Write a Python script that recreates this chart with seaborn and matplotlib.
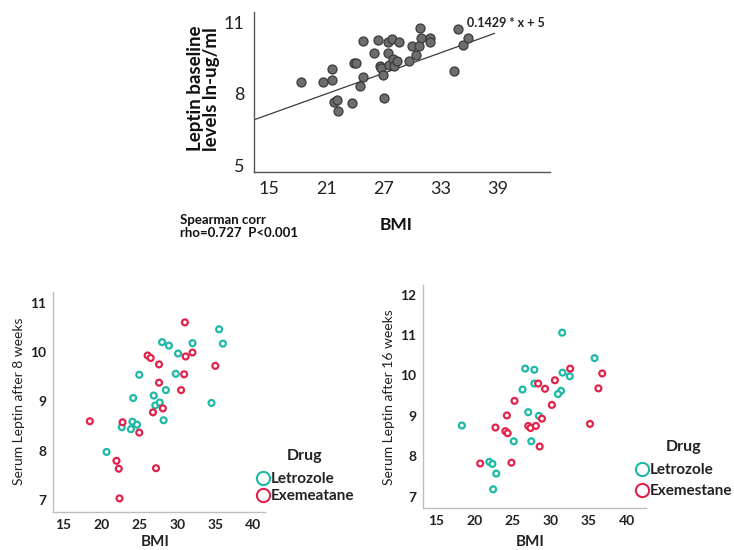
import matplotlib
matplotlib.use('Agg')
import matplotlib.pyplot as plt
import seaborn as sns
import pandas as pd
from matplotlib.lines import Line2D

sns.set_theme(style='white')
plt.rcParams['font.family'] = ['Lato', 'DejaVu Sans']

# ---------------- data ----------------
base_bmi = [18.3, 20.7, 21.6, 21.6, 21.8, 22.1, 22.2, 23.7, 23.95, 24.1, 24.9, 24.9, 24.6,
            26.0, 26.4, 26.6, 26.75, 26.96, 27.1, 27.45, 27.45, 27.6, 27.9, 28.0, 28.1,
            28.4, 28.7, 29.7, 30.0, 30.4, 30.9, 31.0, 30.8, 31.9, 31.9, 34.4, 34.9, 35.4, 35.9]
base_leptin = [8.48, 8.48, 9.02, 8.60, 7.66, 7.75, 7.29, 7.61, 9.30, 9.29, 10.23, 8.69, 8.35,
               9.72, 10.27, 9.18, 9.09, 8.78, 7.82, 10.16, 9.71, 9.19, 10.28, 9.44, 9.18,
               9.39, 10.16, 9.39, 10.0, 9.64, 10.77, 10.32, 10.0, 10.34, 10.17, 8.95, 10.70, 10.03, 10.35]
fit_slope = 0.1429
fit_intercept = 5
fit_x = [13.4, 38.7]
fit_label = '0.1429 * x + 5'
corr_text = 'Spearman corr\nrho=0.727  P<0.001'

w8_letro_bmi = [35.5, 28.0, 28.9, 32.0, 36.0, 30.1, 25.0, 29.8, 28.5, 24.2, 26.9, 27.1, 27.7,
                34.5, 28.2, 24.1, 24.7, 22.7, 23.9, 20.7]
w8_letro_lep = [10.46, 10.20, 10.13, 10.18, 10.17, 9.97, 9.54, 9.56, 9.23, 9.07, 9.12, 8.92, 8.98,
                8.97, 8.62, 8.59, 8.53, 8.48, 8.44, 7.98]
w8_exe_bmi = [31.0, 26.1, 26.5, 31.1, 32.0, 27.6, 35.0, 30.9, 27.6, 30.5, 28.1, 26.8, 18.5,
              22.8, 25.0, 22.0, 22.3, 27.2, 22.4]
w8_exe_lep = [10.60, 9.93, 9.88, 9.91, 9.99, 9.75, 9.72, 9.55, 9.38, 9.23, 8.86, 8.78, 8.60,
              8.58, 8.37, 7.80, 7.64, 7.65, 7.04]

w16_letro_bmi = [31.55, 35.8, 26.7, 27.9, 31.6, 32.55, 27.9, 26.35, 31.4, 31.0, 27.1, 28.5, 18.4,
                 25.2, 27.5, 22.0, 22.4, 22.9, 22.5]
w16_letro_lep = [11.06, 10.43, 10.17, 10.14, 10.07, 9.98, 9.80, 9.65, 9.62, 9.54, 9.09, 9.00, 8.76,
                 8.37, 8.37, 7.86, 7.81, 7.57, 7.18]
w16_exe_bmi = [32.6, 36.8, 30.6, 28.4, 29.3, 36.3, 25.3, 30.2, 24.3, 28.9, 22.8, 27.1, 27.4,
               28.1, 35.2, 24.1, 24.4, 28.6, 20.8, 24.9]
w16_exe_lep = [10.17, 10.05, 9.88, 9.80, 9.67, 9.68, 9.37, 9.27, 9.01, 8.93, 8.71, 8.75, 8.70,
               8.75, 8.80, 8.62, 8.57, 8.24, 7.82, 7.84]

drugs8 = ['Letrozole', 'Exemeatane']
drugs16 = ['Letrozole', 'Exemestane']
drug_colors = ['#1db8a6', '#e1224b']

top_xticks = [15, 21, 27, 33, 39]
top_yticks = [5, 8, 11]
bot_xticks = [15, 20, 25, 30, 35, 40]
w8_yticks = [7, 8, 9, 10, 11]
w16_yticks = [7, 8, 9, 10, 11, 12]

# ---------------- figure ----------------
fig = plt.figure(figsize=(7.34, 5.5), dpi=100)

# top panel
ax1 = fig.add_axes([0.346, 0.688, 0.403, 0.290])
sns.scatterplot(x=base_bmi, y=base_leptin, ax=ax1, color='#6d6d6d', edgecolor='#3a3a3a',
                s=42, linewidth=0.9, zorder=3)
ax1.plot(fit_x, [fit_slope * v + fit_intercept for v in fit_x], color='#3a3a3a', lw=0.9, zorder=2)
ax1.set_xlim(13.4, 44.5)
ax1.set_ylim(4.75, 11.42)
ax1.set_xticks(top_xticks)
ax1.set_yticks(top_yticks)
ax1.tick_params(length=0, labelsize=13, pad=7, colors='#222222')
for s in ['top', 'right']:
    ax1.spines[s].set_visible(False)
for s in ['left', 'bottom']:
    ax1.spines[s].set_color('#555555')
    ax1.spines[s].set_linewidth(1.0)
ax1.set_ylabel('Leptin baseline\nlevels ln-ug/ml', fontsize=13.5, fontweight='bold', color='#111111',
               linespacing=0.95)
ax1.yaxis.set_label_coords(-0.115, 0.52)
ax1.set_xlabel('BMI', fontsize=12.5, fontweight='bold', color='#111111')
ax1.xaxis.set_label_coords(0.48, -0.285)
fig.text(467 / 734, 1 - 22.7 / 550, fit_label, fontsize=9, fontweight='bold', va='center',
         ha='left', color='#222222')
fig.text(180 / 734, 1 - 214 / 550, corr_text, fontsize=9.5, fontweight='bold', va='top',
         ha='left', color='#111111', linespacing=1.05)


def drug_panel(rect, lb, ll, eb, el, names, ylim, xlim, yticks, ylabel, leg_xy, xlab_y, lspace):
    df = pd.DataFrame({
        'BMI': lb + eb,
        'Leptin': ll + el,
        'Drug': [names[0]] * len(lb) + [names[1]] * len(eb),
    })
    ax = fig.add_axes(rect)
    sns.scatterplot(data=df, x='BMI', y='Leptin', hue='Drug', hue_order=names,
                    palette=drug_colors, ax=ax, s=18, facecolor='none', linewidth=1.6,
                    legend=False, zorder=3)
    coll = ax.collections[0]
    coll.set_edgecolors(coll.get_facecolors())
    coll.set_facecolors('white')
    ax.set_xlim(*xlim)
    ax.set_ylim(*ylim)
    ax.set_xticks(bot_xticks)
    ax.set_yticks(yticks)
    ax.tick_params(length=0, labelsize=10, pad=5, colors='#222222')
    for lab in ax.get_xticklabels() + ax.get_yticklabels():
        lab.set_fontweight('bold')
    for s in ['top', 'right']:
        ax.spines[s].set_visible(False)
    for s in ['left', 'bottom']:
        ax.spines[s].set_color('#bdbdbd')
        ax.spines[s].set_linewidth(1.0)
    ax.set_ylabel(ylabel, fontsize=10, color='#222222')
    ax.set_xlabel('BMI', fontsize=11, fontweight='bold', color='#222222')
    ax.xaxis.set_label_coords(0.48, xlab_y)
    handles = [Line2D([], [], ls='none', marker='o', markersize=9.5, markerfacecolor='white',
                      markeredgecolor=c, markeredgewidth=1.5) for c in drug_colors]
    leg = ax.legend(handles, names, title='Drug', loc='upper left',
                    bbox_to_anchor=leg_xy, bbox_transform=fig.transFigure, frameon=False,
                    borderpad=0, handlelength=0.9, handletextpad=0.1, labelspacing=lspace,
                    prop={'size': 11, 'weight': 'bold'},
                    title_fontproperties={'size': 11.5, 'weight': 'bold'})
    for t in leg.get_texts():
        t.set_color('#222222')
    leg.get_title().set_color('#222222')
    leg._legend_box.sep = 7
    return ax


ax2 = drug_panel([0.0727, 0.0696, 0.289, 0.40], w8_letro_bmi, w8_letro_lep, w8_exe_bmi, w8_exe_lep,
                 drugs8, (6.77, 11.22), (13.7, 41.6), w8_yticks, 'Serum Leptin after 8 weeks',
                 (248 / 734, 1 - 441 / 550), -0.105, 0.2)
ax3 = drug_panel([0.5767, 0.0758, 0.304, 0.406], w16_letro_bmi, w16_letro_lep, w16_exe_bmi, w16_exe_lep,
                 drugs16, (6.71, 12.24), (13.34, 42.6), w16_yticks, 'Serum Leptin after 16 weeks',
                 (627 / 734, 1 - 432 / 550), -0.12, 0.45)

fig.savefig('out.png', dpi=100)
